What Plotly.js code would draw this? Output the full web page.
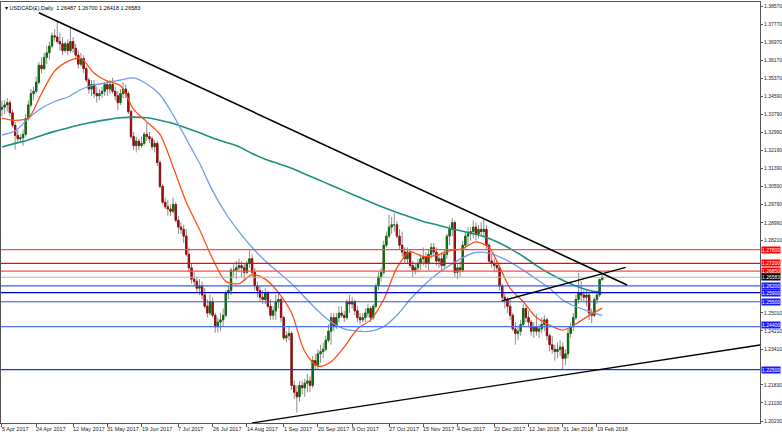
<!DOCTYPE html>
<html><head><meta charset="utf-8">
<script src="https://cdn.plot.ly/plotly-3.0.1.min.js"></script>
<style>html,body{margin:0;padding:0;background:#fff}#chart{width:782px;height:435px}</style>
</head><body><div id="chart"></div>
<script>
// ---- daily OHLC, 5 Apr 2017 .. 21 Feb 2018 ----
const open=[
1.3400,1.3410,1.3420,1.3430,1.3385, 1.3330,1.3285,1.3270,1.3275,1.3290, 1.3360,1.3420,1.3470,1.3480,1.3520,
1.3595,1.3580,1.3630,1.3650,1.3680, 1.3725,1.3720,1.3700,1.3690,1.3660, 1.3690,1.3660,1.3700,1.3670,1.3640,
1.3600,1.3625,1.3580,1.3530,1.3490, 1.3510,1.3470,1.3460,1.3470,1.3480, 1.3510,1.3490,1.3510,1.3480,1.3460,
1.3430,1.3470,1.3490,1.3470,1.3390, 1.3280,1.3240,1.3260,1.3240,1.3250, 1.3290,1.3280,1.3270,1.3235,1.3250,
1.3165,1.3060,1.2990,1.2970,1.2960, 1.2950,1.2980,1.2910,1.2880,1.2870, 1.2840,1.2760,1.2700,1.2650,1.2640,
1.2610,1.2620,1.2580,1.2530,1.2500, 1.2550,1.2490,1.2440,1.2460,1.2470, 1.2490,1.2590,1.2600,1.2690,1.2690,
1.2700,1.2710,1.2700,1.2680,1.2720, 1.2740,1.2680,1.2620,1.2600,1.2570, 1.2560,1.2590,1.2530,1.2490,1.2510,
1.2550,1.2560,1.2480,1.2390,1.2400, 1.2410,1.2180,1.2150,1.2130,1.2180, 1.2170,1.2190,1.2200,1.2180,1.2290,
1.2270,1.2320,1.2330,1.2340,1.2380, 1.2420,1.2480,1.2440,1.2480,1.2500, 1.2490,1.2480,1.2550,1.2540,1.2550,
1.2510,1.2480,1.2470,1.2480,1.2500, 1.2520,1.2480,1.2530,1.2620,1.2660, 1.2680,1.2800,1.2840,1.2880,1.2890,
1.2890,1.2840,1.2800,1.2770,1.2740, 1.2770,1.2710,1.2690,1.2700,1.2720, 1.2740,1.2750,1.2720,1.2760,1.2790,
1.2770,1.2730,1.2740,1.2710,1.2760, 1.2840,1.2870,1.2900,1.2680,1.2700, 1.2690,1.2800,1.2840,1.2850,1.2860,
1.2880,1.2850,1.2870,1.2860,1.2870, 1.2800,1.2730,1.2720,1.2710,1.2700, 1.2620,1.2570,1.2560,1.2530,1.2490,
1.2430,1.2410,1.2420,1.2450,1.2520, 1.2480,1.2460,1.2420,1.2440,1.2420, 1.2430,1.2450,1.2470,1.2400,1.2360,
1.2340,1.2330,1.2340,1.2350,1.2300, 1.2320,1.2410,1.2440,1.2480,1.2560, 1.2590,1.2580,1.2570,1.2580,1.2500,
1.2490,1.2560,1.2580,1.26487];
const high=[
1.3440,1.3440,1.3450,1.3440,1.3400, 1.3345,1.3310,1.3290,1.3310,1.3380, 1.3440,1.3490,1.3500,1.3545,1.3610,
1.3630,1.3650,1.3680,1.3700,1.3740, 1.3755,1.3790,1.3740,1.3720,1.3700, 1.3710,1.3762,1.3720,1.3690,1.3660,
1.3650,1.3640,1.3590,1.3540,1.3530, 1.3530,1.3500,1.3490,1.3500,1.3520, 1.3530,1.3530,1.3540,1.3500,1.3480,
1.3490,1.3520,1.3510,1.3480,1.3400, 1.3300,1.3280,1.3270,1.3280,1.3300, 1.3340,1.3300,1.3280,1.3265,1.3260,
1.3175,1.3070,1.3010,1.3000,1.2980, 1.3010,1.2990,1.2930,1.2900,1.2890, 1.2870,1.2790,1.2720,1.2680,1.2660,
1.2650,1.2640,1.2610,1.2560,1.2580, 1.2570,1.2500,1.2480,1.2500,1.2520, 1.2600,1.2620,1.2700,1.2720,1.2730,
1.2740,1.2730,1.2720,1.2730,1.2778, 1.2760,1.2700,1.2640,1.2620,1.2600, 1.2610,1.2600,1.2560,1.2530,1.2580,
1.2590,1.2570,1.2490,1.2420,1.2440, 1.2420,1.2200,1.2180,1.2200,1.2200, 1.2210,1.2230,1.2220,1.2310,1.2320,
1.2340,1.2360,1.2370,1.2400,1.2450, 1.2500,1.2500,1.2500,1.2530,1.2530, 1.2510,1.2560,1.2580,1.2570,1.2560,
1.2530,1.2500,1.2500,1.2520,1.2540, 1.2530,1.2540,1.2630,1.2680,1.2700, 1.2820,1.2860,1.2935,1.2925,1.2940,
1.2905,1.2870,1.2860,1.2790,1.2790, 1.2780,1.2730,1.2720,1.2740,1.2760, 1.2790,1.2770,1.2780,1.2810,1.2810,
1.2790,1.2760,1.2770,1.2780,1.2850, 1.2890,1.2920,1.2910,1.2720,1.2730, 1.2820,1.2860,1.2880,1.2880,1.2910,
1.2900,1.2890,1.2900,1.2920,1.2890, 1.2810,1.2760,1.2740,1.2730,1.2710, 1.2630,1.2590,1.2570,1.2560,1.2500,
1.2460,1.2440,1.2470,1.2540,1.2530, 1.2510,1.2470,1.2460,1.2495,1.2450, 1.2480,1.2490,1.2480,1.2410,1.2400,
1.2360,1.2370,1.2380,1.2370,1.2340, 1.2430,1.2460,1.2500,1.2580,1.2677, 1.2640,1.2600,1.2600,1.2590,1.2520,
1.2570,1.2600,1.2650,1.26700];
const low=[
1.3370,1.3380,1.3390,1.3370,1.3320, 1.3222,1.3250,1.3255,1.3240,1.3280, 1.3350,1.3410,1.3440,1.3470,1.3510,
1.3560,1.3575,1.3600,1.3620,1.3670, 1.3700,1.3690,1.3660,1.3640,1.3650, 1.3640,1.3650,1.3650,1.3620,1.3580,
1.3590,1.3560,1.3520,1.3470,1.3460, 1.3450,1.3430,1.3440,1.3450,1.3460, 1.3460,1.3470,1.3470,1.3440,1.3397,
1.3420,1.3450,1.3450,1.3380,1.3270, 1.3220,1.3210,1.3220,1.3230,1.3240, 1.3260,1.3250,1.3220,1.3210,1.3150,
1.3050,1.2980,1.2960,1.2930,1.2930, 1.2940,1.2900,1.2850,1.2850,1.2810, 1.2750,1.2680,1.2630,1.2620,1.2590,
1.2580,1.2560,1.2520,1.2480,1.2490, 1.2480,1.2413,1.2415,1.2420,1.2440, 1.2480,1.2560,1.2580,1.2660,1.2650,
1.2680,1.2660,1.2640,1.2670,1.2700, 1.2660,1.2600,1.2570,1.2550,1.2540, 1.2540,1.2520,1.2470,1.2470,1.2470,
1.2520,1.2460,1.2380,1.2370,1.2380, 1.2160,1.2120,1.2061,1.2110,1.2140, 1.2130,1.2150,1.2150,1.2170,1.2250,
1.2250,1.2280,1.2300,1.2330,1.2370, 1.2360,1.2420,1.2430,1.2460,1.2480, 1.2460,1.2470,1.2500,1.2520,1.2490,
1.2460,1.2450,1.2460,1.2460,1.2480, 1.2460,1.2470,1.2520,1.2600,1.2640, 1.2670,1.2790,1.2830,1.2850,1.2860,
1.2830,1.2780,1.2750,1.2720,1.2720, 1.2700,1.2660,1.2670,1.2680,1.2690, 1.2710,1.2700,1.2690,1.2740,1.2750,
1.2710,1.2700,1.2690,1.2700,1.2740, 1.2800,1.2840,1.2660,1.2650,1.2660, 1.2680,1.2780,1.2800,1.2820,1.2830,
1.2820,1.2830,1.2840,1.2840,1.2780, 1.2720,1.2700,1.2680,1.2680,1.2600, 1.2560,1.2520,1.2500,1.2470,1.2420,
1.2360,1.2380,1.2400,1.2440,1.2460, 1.2440,1.2400,1.2390,1.2400,1.2390, 1.2410,1.2420,1.2380,1.2330,1.2320,
1.2290,1.2300,1.2310,1.2250,1.2270, 1.2300,1.2390,1.2420,1.2470,1.2540, 1.2550,1.2550,1.2530,1.2470,1.2455,
1.2480,1.2540,1.2570,1.26418];
const close=[
1.3410,1.3420,1.3430,1.3385,1.3330, 1.3285,1.3270,1.3275,1.3290,1.3360, 1.3420,1.3470,1.3480,1.3520,1.3595,
1.3580,1.3630,1.3650,1.3680,1.3725, 1.3720,1.3700,1.3690,1.3660,1.3690, 1.3660,1.3700,1.3670,1.3640,1.3600,
1.3625,1.3580,1.3530,1.3490,1.3510, 1.3470,1.3460,1.3470,1.3480,1.3510, 1.3490,1.3510,1.3480,1.3460,1.3430,
1.3470,1.3490,1.3470,1.3390,1.3280, 1.3240,1.3260,1.3240,1.3250,1.3290, 1.3280,1.3270,1.3235,1.3250,1.3165,
1.3060,1.2990,1.2970,1.2960,1.2950, 1.2980,1.2910,1.2880,1.2870,1.2840, 1.2760,1.2700,1.2650,1.2640,1.2610,
1.2620,1.2580,1.2530,1.2500,1.2550, 1.2490,1.2440,1.2460,1.2470,1.2490, 1.2590,1.2600,1.2690,1.2690,1.2700,
1.2710,1.2700,1.2680,1.2720,1.2740, 1.2680,1.2620,1.2600,1.2570,1.2560, 1.2590,1.2530,1.2490,1.2510,1.2550,
1.2560,1.2480,1.2390,1.2400,1.2410, 1.2180,1.2150,1.2130,1.2180,1.2170, 1.2190,1.2200,1.2180,1.2290,1.2270,
1.2320,1.2330,1.2340,1.2380,1.2420, 1.2480,1.2440,1.2480,1.2500,1.2490, 1.2480,1.2550,1.2540,1.2550,1.2510,
1.2480,1.2470,1.2480,1.2500,1.2520, 1.2480,1.2530,1.2620,1.2660,1.2680, 1.2800,1.2840,1.2880,1.2890,1.2890,
1.2840,1.2800,1.2770,1.2740,1.2770, 1.2710,1.2690,1.2700,1.2720,1.2740, 1.2750,1.2720,1.2760,1.2790,1.2770,
1.2730,1.2740,1.2710,1.2760,1.2840, 1.2870,1.2900,1.2680,1.2700,1.2690, 1.2800,1.2840,1.2850,1.2860,1.2880,
1.2850,1.2870,1.2860,1.2870,1.2800, 1.2730,1.2720,1.2710,1.2700,1.2620, 1.2570,1.2560,1.2530,1.2490,1.2430,
1.2410,1.2420,1.2450,1.2520,1.2480, 1.2460,1.2420,1.2440,1.2420,1.2430, 1.2450,1.2470,1.2400,1.2360,1.2340,
1.2330,1.2340,1.2350,1.2300,1.2320, 1.2410,1.2440,1.2480,1.2560,1.2590, 1.2580,1.2570,1.2580,1.2500,1.2490,
1.2560,1.2580,1.2649,1.26583];

// ---- moving averages (weekly samples) ----
const maDates=['2017-04-05','2017-04-12','2017-04-19','2017-04-26','2017-05-03','2017-05-10','2017-05-17','2017-05-24','2017-05-31','2017-06-07','2017-06-14','2017-06-21','2017-06-28','2017-07-05','2017-07-12','2017-07-19','2017-07-26','2017-08-02','2017-08-09','2017-08-16','2017-08-23','2017-08-30','2017-09-06','2017-09-13','2017-09-20','2017-09-27','2017-10-04','2017-10-11','2017-10-18','2017-10-25','2017-11-01','2017-11-08','2017-11-15','2017-11-22','2017-11-29','2017-12-06','2017-12-13','2017-12-20','2017-12-27','2018-01-03','2018-01-10','2018-01-17','2018-01-24','2018-01-31','2018-02-07','2018-02-14','2018-02-21'];
const maFast=[1.3362,1.3352,1.3362,1.3470,1.3570,1.3612,1.3625,1.3560,1.3525,1.3505,1.3400,1.3345,1.3290,1.3146,1.2990,1.2870,1.2740,1.2640,1.2630,1.2670,1.2650,1.2590,1.2500,1.2330,1.2265,1.2285,1.2350,1.2430,1.2470,1.2560,1.2700,1.2770,1.2750,1.2755,1.2775,1.2785,1.2815,1.2790,1.2704,1.2610,1.2550,1.2480,1.2447,1.2425,1.2452,1.2490,1.2522];
const maMid=[1.3287,1.3305,1.3360,1.3405,1.3435,1.3455,1.3488,1.3508,1.3518,1.3530,1.3539,1.3512,1.3465,1.3375,1.3270,1.3163,1.3040,1.2940,1.2860,1.2790,1.2730,1.2680,1.2630,1.2570,1.2510,1.2460,1.2430,1.2420,1.2420,1.2440,1.2490,1.2560,1.2620,1.2670,1.2710,1.2745,1.2768,1.2765,1.2748,1.2725,1.2690,1.2650,1.2610,1.2558,1.2528,1.2508,1.2490];
const maSlow=[1.3234,1.3250,1.3265,1.3285,1.3303,1.3318,1.3333,1.3345,1.3355,1.3363,1.3366,1.3363,1.3352,1.3338,1.3318,1.3297,1.3274,1.3255,1.3235,1.3205,1.3180,1.3160,1.3140,1.3115,1.3090,1.3065,1.3040,1.3015,1.2990,1.2967,1.2945,1.2925,1.2905,1.2890,1.2875,1.2862,1.2848,1.2830,1.2810,1.2785,1.2750,1.2710,1.2675,1.2645,1.2620,1.2600,1.2590];

// ---- horizontal levels ----
const levelPrices=[1.27800,1.27200,1.26850,1.26583,1.26200,1.25900,1.25500,1.24400,1.22500];
const levelColors=['#ff4a4a','#ff0000','#ff4a4a','#b4b4b4','#3a5cff','#0000c8','#2a4cff','#4a6cff','#1030ff'];
const levelLabelBg=['#ff0000','#ff0000','#ff0000','#000000','#1a1aff','#1a1aff','#1a1aff','#1a1aff','#1a1aff'];

// ---- axis ticks ----
const xTickDates=['2017-04-05','2017-04-24','2017-05-12','2017-05-31','2017-06-19','2017-07-07','2017-07-26','2017-08-14','2017-09-01','2017-09-20','2017-10-09','2017-10-27','2017-11-15','2017-12-04','2017-12-22','2018-01-12','2018-01-31','2018-02-19'];
const xTickText=['5 Apr 2017','24 Apr 2017','12 May 2017','31 May 2017','19 Jun 2017','7 Jul 2017','26 Jul 2017','14 Aug 2017','1 Sep 2017','20 Sep 2017','9 Oct 2017','27 Oct 2017','15 Nov 2017','4 Dec 2017','22 Dec 2017','12 Jan 2018','31 Jan 2018','19 Feb 2018'];
const yTicks=[1.38570,1.37770,1.36970,1.36170,1.35370,1.34590,1.33790,1.32990,1.32190,1.31390,1.30590,1.29790,1.28990,1.28210,1.25010,1.24210,1.23410,1.21830,1.21030,1.20230];

const titleText='\u25BE USDCAD(\u00A3),Daily  1.26487 1.26700 1.26418 1.26583';

// trading calendar (weekdays, minus market holidays)
const holidays=['2017-12-25','2018-01-01'];
function tradingDays(start,n){
  const out=[];const d=new Date(start+'T00:00:00Z');
  while(out.length<n){const wd=d.getUTCDay();const s=d.toISOString().slice(0,10);
    if(wd!==0&&wd!==6&&!holidays.includes(s))out.push(s);d.setUTCDate(d.getUTCDate()+1);}
  return out;
}
const dates=tradingDays('2017-04-05',close.length);
const bodyHi=open.map((o,i)=>Math.max(o,close[i]));
const bodyLo=open.map((o,i)=>Math.min(o,close[i]));

const font='Liberation Sans, Arial, sans-serif';
const traces=[
 {type:'candlestick',x:dates,open:open,high:high,low:low,close:close,hoverinfo:'skip',
  increasing:{line:{color:'#8c8c8c',width:1},fillcolor:'#8c8c8c'},
  decreasing:{line:{color:'#8c8c8c',width:1},fillcolor:'#8c8c8c'},whiskerwidth:0},
 {type:'candlestick',x:dates,open:open,high:bodyHi,low:bodyLo,close:close,hoverinfo:'skip',
  increasing:{line:{color:'#0b6b0b',width:1},fillcolor:'#0b6b0b'},
  decreasing:{line:{color:'#990d0d',width:1},fillcolor:'#990d0d'},whiskerwidth:0},
 {type:'scatter',mode:'lines',x:maDates,y:maSlow,line:{color:'#17937f',width:1.6,shape:'spline',smoothing:0.8},hoverinfo:'skip'},
 {type:'scatter',mode:'lines',x:maDates,y:maMid,line:{color:'#6f9cf0',width:1.3,shape:'spline',smoothing:0.8},hoverinfo:'skip'},
 {type:'scatter',mode:'lines',x:maDates,y:maFast,line:{color:'#ff4f14',width:1.3,shape:'spline',smoothing:0.8},hoverinfo:'skip'}
];

const shapes=levelPrices.map((p,i)=>({type:'line',xref:'paper',x0:0,x1:1,yref:'y',y0:p,y1:p,line:{color:levelColors[i],width:1.2},layer:'above'}));
shapes.push({type:'line',xref:'x',yref:'y',x0:'2017-04-25',y0:1.38274,x1:'2018-03-06 10:00',y1:1.26241,line:{color:'#000',width:1.6}});
shapes.push({type:'line',xref:'x',yref:'y',x0:'2017-12-27 19:00',y0:1.25534,x1:'2018-03-05 22:00',y1:1.27023,line:{color:'#000',width:1.3}});
shapes.push({type:'line',xref:'x',yref:'y',x0:'2017-08-15 22:00',y0:1.20143,x1:'2018-05-15 22:00',y1:1.23590,line:{color:'#000',width:1.3}});

const annotations=levelPrices.map((p,i)=>({xref:'paper',x:1,xanchor:'left',xshift:1,yref:'y',y:p,yanchor:'middle',
  yshift:(p===1.24400?1.5:0),
  text:p.toFixed(5),showarrow:false,bgcolor:levelLabelBg[i],borderpad:0,font:{family:font,size:5,color:'#fff'}}));
annotations.push({xref:'paper',yref:'paper',x:0,y:1,xanchor:'left',yanchor:'top',xshift:2,yshift:-1,text:titleText,showarrow:false,font:{family:font,size:5.5,color:'#000'}});
xTickDates.forEach((d,i)=>annotations.push({xref:'x',yref:'paper',x:d,y:0,xanchor:'left',yanchor:'top',xshift:-1,yshift:-2,
  text:xTickText[i],showarrow:false,borderpad:0,font:{family:font,size:5.5,color:'#222'}}));

const layout={
  width:782,height:435,margin:{l:1,r:22,t:2,b:12},
  paper_bgcolor:'#fff',plot_bgcolor:'#fff',showlegend:false,
  xaxis:{type:'date',range:['2017-04-04 15:00','2018-05-15 22:00'],
    rangebreaks:[{bounds:['sat','mon']},{values:holidays}],
    rangeslider:{visible:false},showgrid:false,zeroline:false,
    showline:true,mirror:true,linecolor:'#555',linewidth:1,
    ticks:'outside',ticklen:3,tickcolor:'#555',tickmode:'array',tickvals:xTickDates,showticklabels:false},
  yaxis:{side:'right',range:[1.20142,1.38747],showgrid:false,zeroline:false,
    showline:true,mirror:true,linecolor:'#555',linewidth:1,
    ticks:'outside',ticklen:2,tickcolor:'#555',tickmode:'array',tickvals:yTicks,tickformat:'.5f',
    tickfont:{family:font,size:5,color:'#222'}},
  shapes:shapes,annotations:annotations
};
Plotly.newPlot('chart',traces,layout,{staticPlot:true,displayModeBar:false});
</script></body></html>
